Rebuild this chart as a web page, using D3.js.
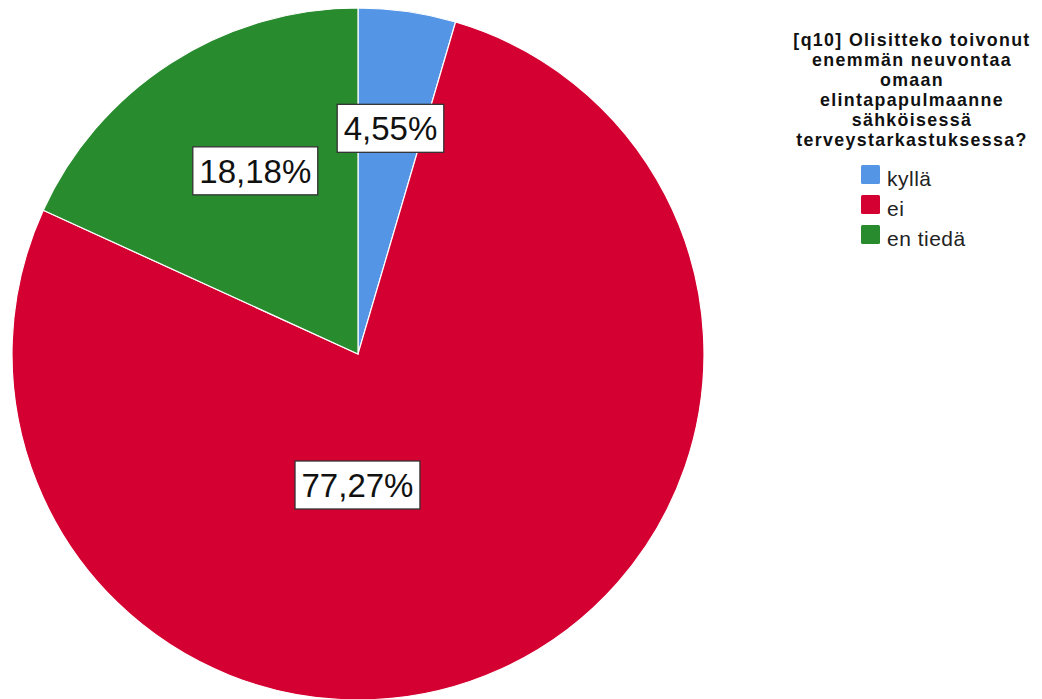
<!DOCTYPE html>
<html>
<head>
<meta charset="utf-8">
<script src="https://cdn.jsdelivr.net/npm/d3@7"></script>
<style>
  html, body { margin: 0; padding: 0; background: #fff; }
  svg { display: block; }
</style>
</head>
<body>
<svg id="chart" width="1042" height="699"></svg>
<script>
// Answer categories and their shares (%)
const categories = ["kyllä", "ei", "en tiedä"];
const shares = [4.55, 77.27, 18.18];
const colors = ["#5595E5", "#D50032", "#288B2E"];
const titleLines = [
  "[q10] Olisitteko toivonut",
  "enemmän neuvontaa",
  "omaan",
  "elintapapulmaanne",
  "sähköisessä",
  "terveystarkastuksessa?"
];

const svg = d3.select("#chart");
const cx = 358, cy = 354, R = 346;

const pie = d3.pie().sort(null).value(d => d.v)
  .startAngle(0).endAngle(2 * Math.PI);
const rows = categories.map((c, i) => ({ c, v: shares[i], color: colors[i] }));
const arcs = pie(rows);
const arc = d3.arc().innerRadius(0).outerRadius(R);

const g = svg.append("g").attr("transform", `translate(${cx},${cy})`);
g.selectAll("path.slice").data(arcs).enter().append("path")
  .attr("class", "slice")
  .attr("d", arc)
  .attr("fill", d => d.data.color)
  .attr("stroke", "#ffffff")
  .attr("stroke-width", 1.2);

// Label placement: angle (radians from 12 o'clock) and distance from centre
const labelPlace = [
  d => ({ a: (d.startAngle + d.endAngle) / 2, r: 228 }),
  d => ({ a: Math.PI + 0.004, r: 131 }),
  d => ({ a: (d.startAngle + d.endAngle) / 2 + 0.06, r: 210 })
];
const fmt = v => v.toFixed(2).replace(".", ",") + "%";

arcs.forEach((d, i) => {
  const p = labelPlace[i](d);
  const x = p.r * Math.sin(p.a), y = -p.r * Math.cos(p.a);
  const lg = g.append("g").attr("transform", `translate(${x},${y})`);
  const t = lg.append("text")
    .attr("text-anchor", "middle")
    .attr("dy", "0.36em")
    .attr("font-family", "Liberation Sans, Arial, sans-serif")
    .attr("font-size", 33)
    .attr("fill", "#111")
    .text(fmt(d.data.v));
  const bb = t.node().getBBox();
  lg.insert("rect", "text")
    .attr("x", bb.x - 6.5).attr("y", -24)
    .attr("width", bb.width + 13).attr("height", 48)
    .attr("fill", "#fff")
    .attr("stroke", "#333")
    .attr("stroke-width", 1.3);
});

// Legend title, one text element per line
const tx = 912;
svg.append("g").selectAll("text").data(titleLines).enter().append("text")
  .attr("font-family", "Liberation Sans, Arial, sans-serif")
  .attr("font-size", 17.8)
  .attr("font-weight", "bold")
  .attr("letter-spacing", 1.35)
  .attr("fill", "#111")
  .attr("text-anchor", "middle")
  .attr("x", tx)
  .attr("y", (d, i) => 46 + i * 20)
  .text(d => d);

// Legend entries
const leg = svg.append("g");
const item = leg.selectAll("g").data(rows).enter().append("g")
  .attr("transform", (d, i) => `translate(861,${165 + i * 30})`);
item.append("rect")
  .attr("width", 19).attr("height", 19).attr("rx", 1.5)
  .attr("fill", d => d.color);
item.append("text")
  .attr("x", 26).attr("y", 21)
  .attr("font-family", "Liberation Sans, Arial, sans-serif")
  .attr("font-size", 21)
  .attr("letter-spacing", 0.5)
  .attr("fill", "#222")
  .text(d => d.c);
</script>
</body>
</html>
